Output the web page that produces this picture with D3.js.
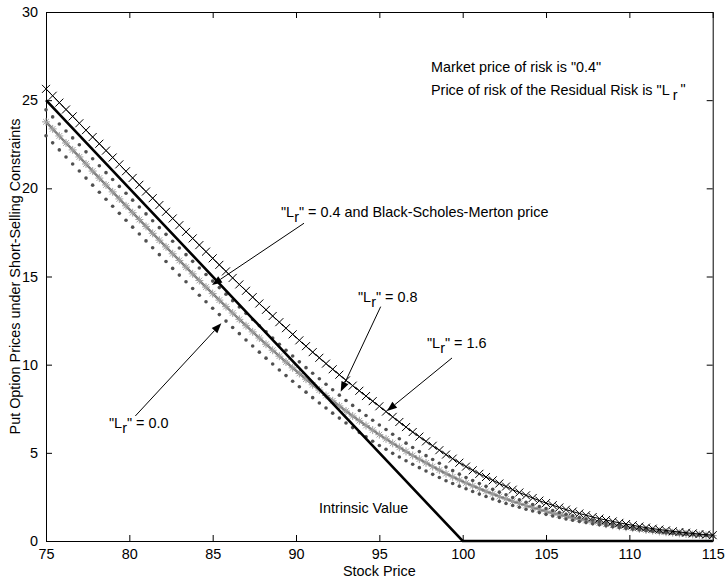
<!DOCTYPE html>
<html><head><meta charset="utf-8">
<script src="https://cdn.jsdelivr.net/npm/d3@7"></script>
<style>
body{margin:0;background:#fff}
text{font-family:"Liberation Sans",Arial,sans-serif;font-size:14.4px;fill:#000}
</style>
</head><body>
<svg id="chart" width="725" height="580"></svg>
<script>
// ---------------- data ----------------
const stockPrice = [75,75.4,75.8,76.2,76.6,77,77.4,77.8,78.2,78.6,79,79.4,79.8,80.2,80.6,81,81.4,81.8,82.2,82.6,83,83.4,83.8,84.2,84.6,85,85.4,85.8,86.2,86.6,87,87.4,87.8,88.2,88.6,89,89.4,89.8,90.2,90.6,91,91.4,91.8,92.2,92.6,93,93.4,93.8,94.2,94.6,95,95.4,95.8,96.2,96.6,97,97.4,97.8,98.2,98.6,99,99.4,99.8,100.2,100.6,101,101.4,101.8,102.2,102.6,103,103.4,103.8,104.2,104.6,105,105.4,105.8,106.2,106.6,107,107.4,107.8,108.2,108.6,109,109.4,109.8,110.2,110.6,111,111.4,111.8,112.2,112.6,113,113.4,113.8,114.2,114.6,115];

// "Lr" = 0.4 and Black-Scholes-Merton price
const putLr04 = [23.77,23.37,22.97,22.57,22.18,21.78,21.38,20.98,20.58,20.19,19.80,19.40,19.01,18.62,18.23,17.84,17.45,17.06,16.68,16.29,15.91,15.53,15.15,14.77,14.40,14.03,13.66,13.29,12.93,12.57,12.21,11.86,11.51,11.16,10.82,10.48,10.15,9.82,9.50,9.18,8.86,8.56,8.25,7.95,7.66,7.37,7.09,6.82,6.55,6.29,6.03,5.79,5.54,5.31,5.08,4.85,4.64,4.43,4.22,4.02,3.82,3.64,3.46,3.29,3.13,2.97,2.82,2.67,2.52,2.39,2.25,2.13,2.01,1.90,1.79,1.68,1.58,1.49,1.40,1.31,1.23,1.16,1.09,1.02,0.95,0.89,0.83,0.78,0.73,0.68,0.63,0.59,0.54,0.50,0.47,0.43,0.40,0.37,0.35,0.32,0.30];

// "Lr" = 1.6
const putLr16 = [25.64,25.25,24.86,24.47,24.08,23.69,23.30,22.91,22.53,22.14,21.75,21.36,20.97,20.59,20.20,19.82,19.44,19.05,18.67,18.29,17.91,17.53,17.16,16.78,16.41,16.03,15.66,15.29,14.92,14.55,14.19,13.83,13.47,13.11,12.76,12.41,12.07,11.72,11.38,11.05,10.71,10.39,10.06,9.74,9.43,9.11,8.81,8.52,8.22,7.93,7.64,7.34,7.04,6.75,6.46,6.18,5.92,5.65,5.40,5.15,4.90,4.67,4.44,4.22,4.01,3.81,3.63,3.44,3.26,3.09,2.91,2.75,2.59,2.44,2.29,2.15,2.03,1.90,1.78,1.67,1.56,1.46,1.36,1.27,1.19,1.11,1.03,0.96,0.89,0.82,0.76,0.70,0.65,0.60,0.55,0.51,0.47,0.43,0.39,0.36,0.33];

// "Lr" = 0.8
const putLr08 = [24.45,24.05,23.65,23.25,22.86,22.47,22.07,21.68,21.28,20.89,20.50,20.11,19.72,19.33,18.94,18.55,18.16,17.77,17.39,17.00,16.62,16.24,15.86,15.48,15.11,14.74,14.37,14.00,13.63,13.27,12.91,12.56,12.21,11.86,11.51,11.16,10.82,10.49,10.16,9.83,9.51,9.20,8.89,8.58,8.27,7.97,7.69,7.40,7.12,6.85,6.58,6.32,6.05,5.80,5.55,5.30,5.07,4.84,4.62,4.41,4.19,3.99,3.79,3.60,3.43,3.26,3.10,2.93,2.77,2.62,2.47,2.33,2.20,2.07,1.96,1.84,1.73,1.62,1.52,1.43,1.33,1.25,1.18,1.10,1.03,0.96,0.90,0.84,0.78,0.73,0.68,0.63,0.58,0.54,0.49,0.45,0.42,0.39,0.37,0.34,0.31];

// "Lr" = 0.0
const putLr00 = [22.98,22.58,22.18,21.78,21.38,20.98,20.58,20.18,19.78,19.38,18.98,18.58,18.19,17.80,17.41,17.02,16.63,16.24,15.85,15.46,15.08,14.70,14.32,13.94,13.57,13.20,12.84,12.47,12.11,11.76,11.40,11.06,10.71,10.37,10.04,9.70,9.38,9.06,8.75,8.44,8.13,7.83,7.54,7.25,6.97,6.69,6.43,6.16,5.91,5.66,5.42,5.20,4.97,4.76,4.55,4.35,4.16,3.97,3.78,3.60,3.42,3.26,3.11,2.96,2.81,2.66,2.52,2.38,2.25,2.13,2.01,1.91,1.80,1.70,1.61,1.51,1.42,1.33,1.25,1.18,1.11,1.05,0.98,0.92,0.87,0.81,0.76,0.71,0.67,0.62,0.58,0.54,0.50,0.46,0.43,0.40,0.38,0.35,0.33,0.31,0.29];

// Intrinsic value (kink points)
const intrinsicPrice = [75, 100, 115];
const intrinsicValue = [25, 0, 0];

const xTicks = [75, 80, 85, 90, 95, 100, 105, 110, 115];
const yTicks = [0, 5, 10, 15, 20, 25, 30];

// ---------------- layout ----------------
const plot = {left: 46, right: 712.7, top: 12, bottom: 541};
const svg = d3.select("#chart");
svg.append("rect").attr("width", 725).attr("height", 580).attr("fill", "#fff");

const x = d3.scaleLinear().domain([75, 115]).range([plot.left, plot.right]);
const y = d3.scaleLinear().domain([0, 30]).range([plot.bottom, plot.top]);

const pts = vals => stockPrice.map((s, i) => [s, vals[i]]);
const line = d3.line().x(d => x(d[0])).y(d => y(d[1]));

// ---------------- axes ----------------
const gx = svg.append("g").attr("transform", `translate(0,${plot.bottom})`)
  .call(d3.axisBottom(x).tickValues(xTicks).tickSize(-6).tickSizeOuter(0).tickPadding(8).tickFormat(d3.format("d")));
const gxt = svg.append("g").attr("transform", `translate(0,${plot.top})`)
  .call(d3.axisTop(x).tickValues(xTicks).tickSize(-6).tickSizeOuter(0).tickFormat(""));
const gy = svg.append("g").attr("transform", `translate(${plot.left},0)`)
  .call(d3.axisLeft(y).tickValues(yTicks).tickSize(-6).tickSizeOuter(0).tickPadding(8).tickFormat(d3.format("d")));
const gyr = svg.append("g").attr("transform", `translate(${plot.right},0)`)
  .call(d3.axisRight(y).tickValues(yTicks).tickSize(-6).tickSizeOuter(0).tickFormat(""));
[gx, gxt, gy, gyr].forEach(g => {
  g.selectAll("path.domain").attr("stroke", "#000").attr("stroke-width", 1);
  g.selectAll(".tick line").attr("stroke", "#000").attr("stroke-width", 1);
  g.selectAll(".tick text").attr("font-family", '"Liberation Sans",Arial,sans-serif').attr("font-size", 14.4).attr("fill", "#000");
});

// axis titles
svg.append("text").attr("x", (plot.left + plot.right) / 2).attr("y", 576)
  .attr("text-anchor", "middle").text("Stock Price");
svg.append("text").attr("transform", `translate(20,${(plot.top + plot.bottom) / 2}) rotate(-90)`)
  .attr("text-anchor", "middle").text("Put Option Prices under Short-Selling Constraints");

// ---------------- series ----------------
const g = svg.append("g");

// Lr = 0.4 / BSM : gray line with asterisks
g.append("path").datum(pts(putLr04)).attr("d", line)
  .attr("fill", "none").attr("stroke", "#7a7a7a").attr("stroke-width", 2.4);
const star = r => {
  const a = r * 0.7071;
  return `M0,${-r}L0,${r}M${-r},0L${r},0M${-a},${-a}L${a},${a}M${-a},${a}L${a},${-a}`;
};
g.append("g").selectAll("path").data(pts(putLr04)).join("path")
  .attr("transform", d => `translate(${x(d[0])},${y(d[1])})`)
  .attr("d", star(4)).attr("stroke", "#a0a0a0").attr("stroke-width", 1).attr("fill", "none");

// Lr = 0.0 and 0.8 : dots
[putLr00, putLr08].forEach(vals => {
  g.append("g").selectAll("circle").data(pts(vals)).join("circle")
    .attr("cx", d => x(d[0])).attr("cy", d => y(d[1])).attr("r", 1.8).attr("fill", "#505050");
});

// Intrinsic value
g.append("path").datum(intrinsicPrice.map((s, i) => [s, intrinsicValue[i]])).attr("d", line)
  .attr("fill", "none").attr("stroke", "#000").attr("stroke-width", 2.6);

// Lr = 1.6 : black line with x markers
g.append("path").datum(pts(putLr16)).attr("d", line)
  .attr("fill", "none").attr("stroke", "#000").attr("stroke-width", 1);
g.append("g").selectAll("path").data(pts(putLr16)).join("path")
  .attr("transform", d => `translate(${x(d[0])},${y(d[1])})`)
  .attr("d", "M-4,-4L4,4M-4,4L4,-4").attr("stroke", "#000").attr("stroke-width", 1).attr("fill", "none");

// ---------------- annotations ----------------
function arrow(from, to) {
  const x1 = x(from[0]), y1 = y(from[1]), x2 = x(to[0]), y2 = y(to[1]);
  const dx = x2 - x1, dy = y2 - y1, L = Math.hypot(dx, dy), ux = dx / L, uy = dy / L;
  const hl = 10, hw = 3.8;
  const bx = x2 - ux * hl, by = y2 - uy * hl;
  svg.append("line").attr("x1", x1).attr("y1", y1).attr("x2", bx).attr("y2", by)
    .attr("stroke", "#000").attr("stroke-width", 1);
  svg.append("path").attr("d", `M${x2},${y2}L${bx - uy * hw},${by + ux * hw}L${bx + uy * hw},${by - ux * hw}Z`)
    .attr("fill", "#000");
}
function lrLabel(pos, rest) {
  const t = svg.append("text").attr("x", x(pos[0])).attr("y", y(pos[1]));
  t.append("tspan").text('"L');
  t.append("tspan").attr("dy", 5).text("r");
  t.append("tspan").attr("dy", -5).text('"' + rest);
}

lrLabel([89.1, 18.37], " = 0.4 and Black-Scholes-Merton price");
arrow([90.48, 18.02], [84.96, 14.52]);
lrLabel([93.72, 13.55], " = 0.8");
arrow([95.08, 13.29], [92.68, 8.47]);
lrLabel([97.86, 10.95], " = 1.6");
arrow([99.36, 10.38], [95.46, 7.37]);
lrLabel([78.78, 6.39], " = 0.0");
arrow([80.36, 7.09], [85.52, 12.35]);

svg.append("text").attr("x", x(91.38)).attr("y", y(1.59)).text("Intrinsic Value");

svg.append("text").attr("x", x(98.1)).attr("y", y(26.6)).text('Market price of risk is "0.4"');
const t2 = svg.append("text").attr("x", x(98.1)).attr("y", y(25.3));
t2.append("tspan").text('Price of risk of the Residual Risk is "L');
t2.append("tspan").attr("dx", 3).attr("dy", 5).text("r");
t2.append("tspan").attr("dx", 3).attr("dy", -6).text('"');
</script>
</body></html>
